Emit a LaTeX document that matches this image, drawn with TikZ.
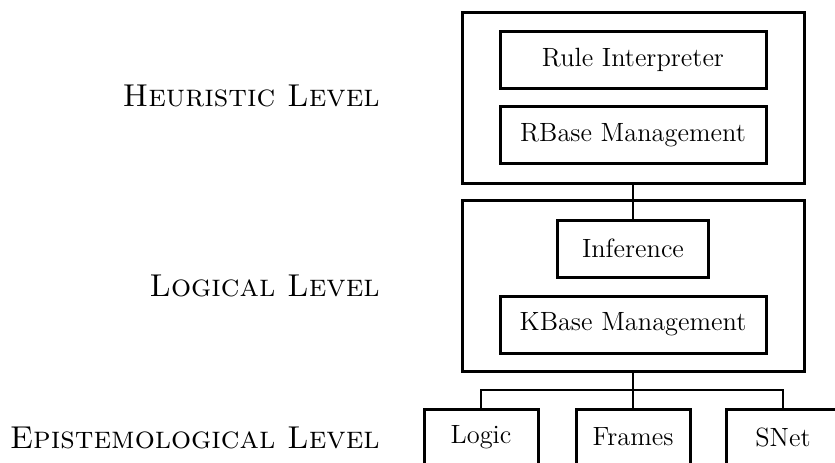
\documentclass[tikz,border=0pt]{standalone}
\begin{document}
\begin{tikzpicture}[x=0.5pt,y=-0.5pt,
    font=\fontsize{13.2}{16}\selectfont,
    box/.style={draw,line width=1.5pt,inner sep=0pt,minimum width=133pt,minimum height=28.5pt},
    layerbox/.style={draw,line width=1.5pt,inner sep=0pt,minimum width=171pt,minimum height=85.5pt},
    leaf/.style={draw,line width=1.5pt,inner sep=0pt,minimum width=57pt,minimum height=28pt},
    level/.style={anchor=base east,inner sep=0pt,font=\fontsize{15.8}{19}\selectfont\scshape},
    link/.style={line width=1pt}]
  \clip (0,0) rectangle (835,462);
  %
  \node[layerbox] (heur) at (633,97.5) {};
  \node[box] (rint) at (633,59.5) {Rule Interpreter};
  \node[box] (rbase) at (633,135) {RBase Management};
  %
  \node[layerbox] (logl) at (633,286) {};
  \node[box,minimum width=75.5pt] (infer) at (633,248.5) {Inference};
  \node[box] (kbase) at (633,324.5) {KBase Management};
  %
  \node[leaf] (logic) at (481,437) {Logic};
  \node[leaf] (frames) at (633,437) {Frames};
  \node[leaf] (snet) at (783,437) {SNet};
  %
  \node[level] (lh) at (380,106.7) {Heuristic Level};
  \node[level] (ll) at (380,296.7) {Logical Level};
  \node[level] (le) at (380,448.3) {Epistemological Level};
  %
  \draw[link] (heur.south) -- (infer.north);
  \draw[link] (logl.south) -- (frames.north);
  \draw[link] (logic.north) -- ++(0,-18) -| (snet.north);
\end{tikzpicture}
\end{document}
